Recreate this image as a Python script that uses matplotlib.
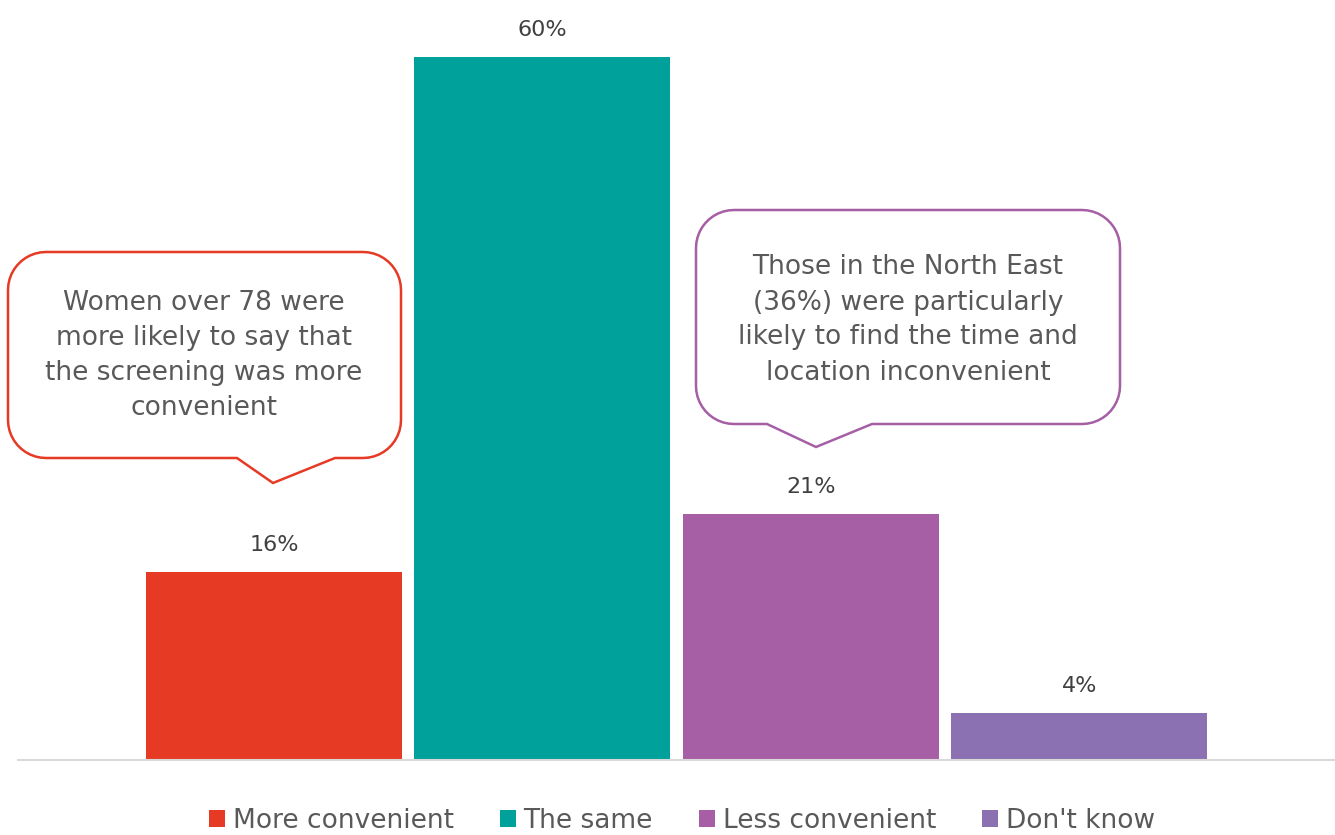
import numpy as np
import matplotlib.pyplot as plt
from matplotlib.path import Path
from matplotlib.patches import PathPatch, Patch

categories = ["More convenient", "The same", "Less convenient", "Don't know"]
values = [16, 60, 21, 4]
colors = ["#E63A25", "#00A19A", "#A65EA5", "#8B71B1"]
labels = [f"{v}%" for v in values]

note_left = "Women over 78 were\nmore likely to say that\nthe screening was more\nconvenient"
note_right = "Those in the North East\n(36%) were particularly\nlikely to find the time and\nlocation inconvenient"

W, H = 1335, 835
fig = plt.figure(figsize=(W / 100, H / 100), dpi=100)
plt.rcParams['font.family'] = ['DejaVu Sans']

# axes: left 18px, right 1335px, top 0, bottom 760px
ax = fig.add_axes([18 / W, 1 - 760 / H, (1335 - 18) / W, 760 / H])
x = np.arange(len(values))
ax.bar(x, values, width=0.953, color=colors, zorder=2)
ax.set_xlim(-0.953, 3.953)
ax.set_ylim(0, 64.85)
for xi, v, lab in zip(x, values, labels):
    ax.annotate(lab, (xi, v), xytext=(0, 17), textcoords="offset pixels",
                ha="center", va="bottom", fontsize=16, color="#404040")
for s in ["top", "right", "left"]:
    ax.spines[s].set_visible(False)
ax.spines["bottom"].set_color("#D9D9D9")
ax.spines["bottom"].set_linewidth(1.5)
ax.set_xticks([])
ax.set_yticks([])


def px(xp, yp):
    return (xp / W, 1 - yp / H)


def callout(x0, y0, x1, y1, tail_l, tail_r, tip, r=38, n=12):
    # rounded box with a triangular tail at the bottom, pixel coords (y down)
    pts = []
    def arc(cx, cy, a0, a1):
        for a in np.linspace(a0, a1, n):
            pts.append((cx + r * np.cos(a), cy + r * np.sin(a)))
    arc(x0 + r, y0 + r, np.pi, 1.5 * np.pi)
    arc(x1 - r, y0 + r, 1.5 * np.pi, 2 * np.pi)
    arc(x1 - r, y1 - r, 0, 0.5 * np.pi)
    pts.append((tail_r, y1))
    pts.append(tip)
    pts.append((tail_l, y1))
    arc(x0 + r, y1 - r, 0.5 * np.pi, np.pi)
    pts.append(pts[0])
    verts = [px(a, b) for a, b in pts]
    codes = [Path.MOVETO] + [Path.LINETO] * (len(verts) - 2) + [Path.CLOSEPOLY]
    return Path(verts, codes)


p1 = callout(8, 252, 401, 458, 237, 335, (273, 483))
fig.add_artist(PathPatch(p1, transform=fig.transFigure, facecolor="white",
                         edgecolor="#E63A25", lw=1.8, zorder=5))
fig.text(*px(204, 356), note_left, ha="center", va="center", fontsize=19,
         color="#595959", linespacing=1.45, zorder=6)

p2 = callout(696, 210, 1120, 424, 767, 872, (816, 447))
fig.add_artist(PathPatch(p2, transform=fig.transFigure, facecolor="white",
                         edgecolor="#A65EA5", lw=1.8, zorder=5))
fig.text(*px(908, 320), note_right, ha="center", va="center", fontsize=19,
         color="#595959", linespacing=1.45, zorder=6)

handles = [Patch(facecolor=c, label=l) for c, l in zip(colors, categories)]
fig.legend(handles=handles, loc="center", bbox_to_anchor=px(682, 821),
           ncol=4, frameon=False, fontsize=19, labelcolor="#595959",
           handlelength=0.6, handleheight=0.6, handletextpad=0.3,
           columnspacing=1.75)

fig.savefig("out.png", dpi=100)
